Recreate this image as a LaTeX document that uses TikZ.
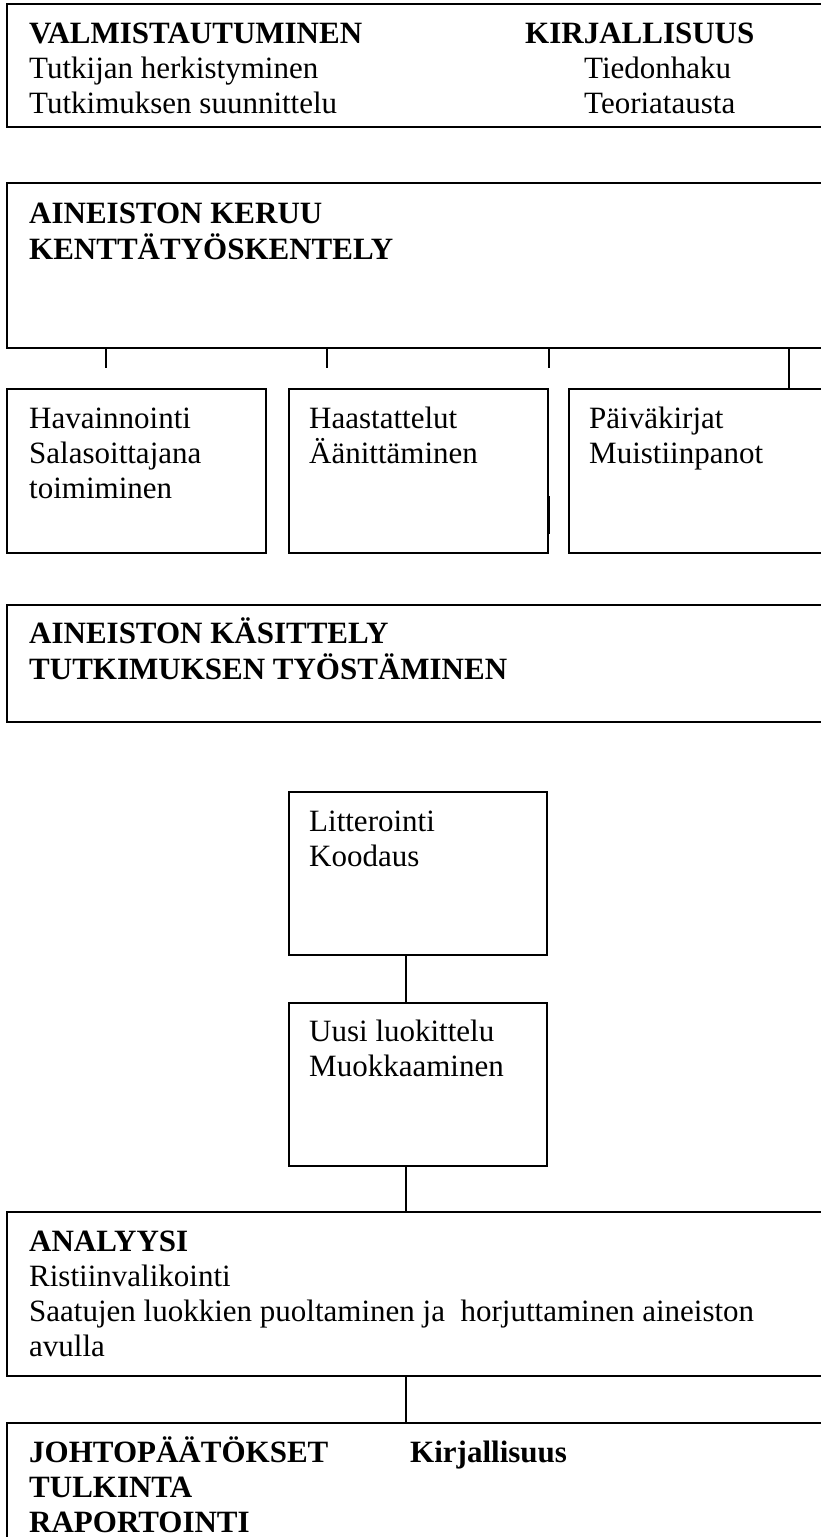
\documentclass[tikz,border=0pt]{standalone}
\usepackage{fontspec}
\setmainfont{Liberation Serif}
\usetikzlibrary{positioning}

\tikzset{
  box/.style={draw, line width=1.3pt, inner sep=0pt, outer sep=0pt, anchor=north west},
  txt/.style={inner sep=0pt, anchor=base west, font=\fontsize{31}{35}\selectfont},
  hd/.style={txt, font=\fontsize{31}{35}\selectfont\bfseries},
  link/.style={line width=1.3pt},
}

\begin{document}
\begin{tikzpicture}[x=1pt,y=1pt]
\useasboundingbox (0,0) rectangle (821,-1537);
\clip (0,0) rectangle (821,-1537);

% wide stage boxes
\node[box, minimum width=823pt, minimum height=123pt] (valm) at (7,-4) {};
\node[box, minimum width=823pt, minimum height=165pt] (keruu) at (7,-183) {};
\node[box, minimum width=823pt, minimum height=117pt] (kasit) at (7,-605) {};
\node[box, minimum width=823pt, minimum height=164pt] (anal) at (7,-1212) {};
\node[box, minimum width=823pt, minimum height=200pt] (joht) at (7,-1423) {};

% field work boxes
\node[box, minimum width=259pt, minimum height=164pt] (hav) at (7,-389) {};
\node[box, minimum width=259pt, minimum height=164pt, right=23pt of hav] (haas) {};
\node[box, minimum width=261pt, minimum height=164pt, right=21pt of haas] (paiv) {};

% processing boxes
\node[box, minimum width=258pt, minimum height=163pt] (litt) at (289,-792) {};
\node[box, minimum width=258pt, minimum height=163pt, below=48pt of litt] (uusi) {};

% texts
\node[hd] (valm1) at ([shift={(22,-39)}]valm.north west) {VALMISTAUTUMINEN};
\node[txt] (valm2) at ([yshift=-35pt]valm1.base west) {Tutkijan herkistyminen};
\node[txt] (valm3) at ([yshift=-35pt]valm2.base west) {Tutkimuksen suunnittelu};
\node[hd] (kirj1) at ([shift={(518,-39)}]valm.north west) {KIRJALLISUUS};
\node[txt] (kirj2) at ([shift={(59,-35)}]kirj1.base west) {Tiedonhaku};
\node[txt] (kirj3) at ([yshift=-35pt]kirj2.base west) {Teoriatausta};

\node[hd] (keruu1) at ([shift={(22,-40)}]keruu.north west) {AINEISTON KERUU};
\node[hd] (keruu2) at ([yshift=-36pt]keruu1.base west) {KENTTÄTYÖSKENTELY};

\node[txt] (hav1) at ([shift={(22,-39)}]hav.north west) {Havainnointi};
\node[txt] (hav2) at ([yshift=-35pt]hav1.base west) {Salasoittajana};
\node[txt] (hav3) at ([yshift=-35pt]hav2.base west) {toimiminen};
\node[txt] (haas1) at ([shift={(20,-39)}]haas.north west) {Haastattelut};
\node[txt] (haas2) at ([yshift=-35pt]haas1.base west) {Äänittäminen};
\node[txt] (paiv1) at ([shift={(20,-39)}]paiv.north west) {Päiväkirjat};
\node[txt] (paiv2) at ([yshift=-35pt]paiv1.base west) {Muistiinpanot};

\node[hd] (kasit1) at ([shift={(22,-38)}]kasit.north west) {AINEISTON KÄSITTELY};
\node[hd] (kasit2) at ([yshift=-36pt]kasit1.base west) {TUTKIMUKSEN TYÖSTÄMINEN};

\node[txt] (litt1) at ([shift={(20,-39)}]litt.north west) {Litterointi};
\node[txt] (litt2) at ([yshift=-35pt]litt1.base west) {Koodaus};
\node[txt] (uusi1) at ([shift={(20,-38)}]uusi.north west) {Uusi luokittelu};
\node[txt] (uusi2) at ([yshift=-35pt]uusi1.base west) {Muokkaaminen};

\node[hd] (anal1) at ([shift={(22,-39)}]anal.north west) {ANALYYSI};
\node[txt] (anal2) at ([yshift=-35pt]anal1.base west) {Ristiinvalikointi};
\node[txt] (anal3) at ([yshift=-35pt]anal2.base west) {Saatujen luokkien puoltaminen ja\ \ horjuttaminen aineiston};
\node[txt] (anal4) at ([yshift=-35pt]anal3.base west) {avulla};

\node[hd] (joht1) at ([shift={(22,-39)}]joht.north west) {JOHTOPÄÄTÖKSET};
\node[hd] (joht2) at ([yshift=-35pt]joht1.base west) {TULKINTA};
\node[hd] (joht3) at ([yshift=-35pt]joht2.base west) {RAPORTOINTI};
\node[hd] (joht4) at ([shift={(403,-39)}]joht.north west) {Kirjallisuus};

% ticks under the field work box
\coordinate (tk1) at (106,-368);
\coordinate (tk2) at (327,-368);
\coordinate (tk3) at (549,-368);
\coordinate (tk4) at (789,-368);
\draw[link] (keruu.south -| tk1) -- (tk1);
\draw[link] (keruu.south -| tk2) -- (tk2);
\draw[link] (keruu.south -| tk3) -- (tk3);
\draw[link] (keruu.south -| tk4) -- (paiv.north -| tk4);
\coordinate (dbl) at (549,-534);
\draw[link] ([yshift=38pt]dbl) -- (dbl);

% middle column
\coordinate (col) at (406,0);
\draw[link] (litt.south -| col) -- (uusi.north -| col);
\draw[link] (uusi.south -| col) -- (anal.north -| col);
\draw[link] (anal.south -| col) -- (joht.north -| col);
\end{tikzpicture}
\end{document}
